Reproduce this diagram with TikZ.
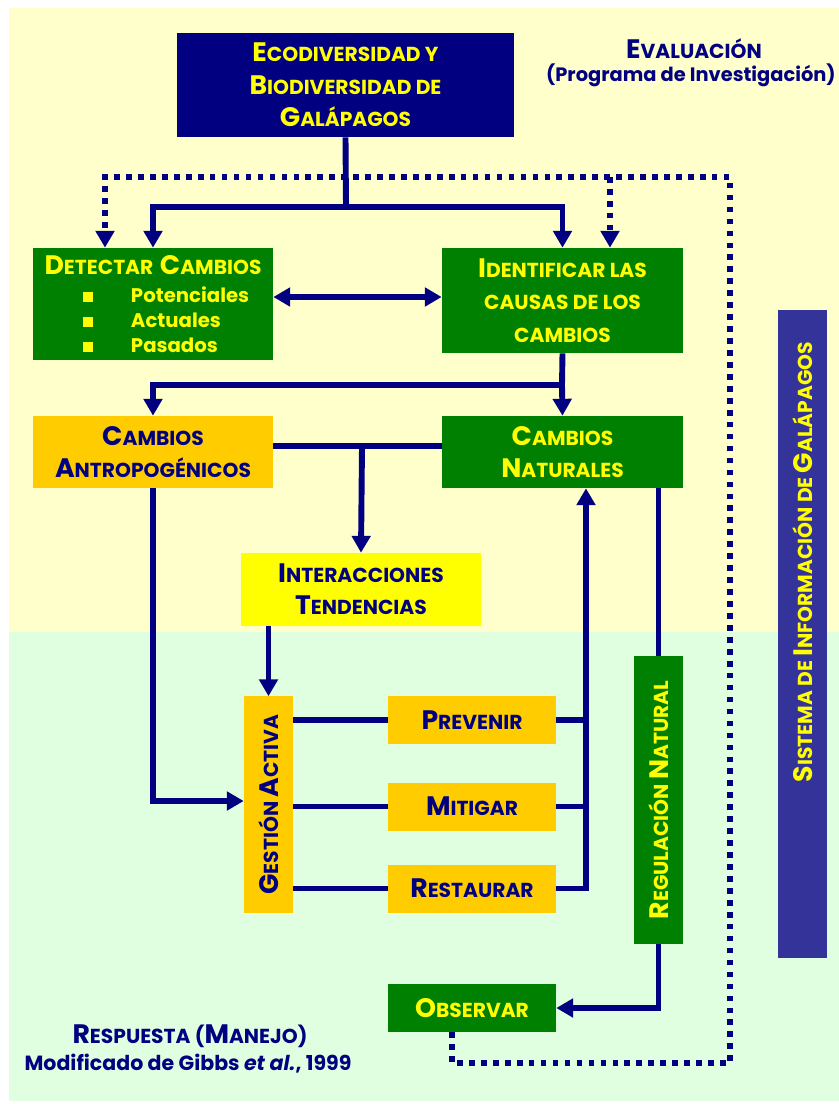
\documentclass[tikz,border=0pt]{standalone}
\usepackage{fontspec}
\setmainfont{Poppins}
\usepackage{graphicx}
\usetikzlibrary{arrows.meta}
\definecolor{navy}{HTML}{000080}
\definecolor{grn}{HTML}{008000}
\definecolor{orng}{HTML}{FFCC00}
\definecolor{yel}{HTML}{FFFF00}
\definecolor{sidebar}{HTML}{333399}
\definecolor{bgyel}{HTML}{FFFFCC}
\definecolor{bggrn}{HTML}{E0FFE0}
\newcommand{\capsc}[2]{{\fontsize{19}{23}\selectfont #1}#2}
\newcommand{\sqbul}{\hspace*{1.25cm}\rule{0.25cm}{0.25cm}\hspace*{0.95cm}}
\tikzset{
  box/.style={rectangle, inner sep=0pt, align=center, font=\bfseries\fontsize{14.4}{23}\selectfont},
  navybox/.style={box, fill=navy, text=yel},
  greenbox/.style={box, fill=grn, text=yel},
  orangebox/.style={box, fill=orng, text=navy},
  yellowbox/.style={box, fill=yel, text=navy},
  sidebox/.style={box, fill=sidebar, text=yel},
  navytext/.style={inner sep=0pt, text=navy, font=\bfseries\fontsize{14.4}{23}\selectfont},
  link/.style={draw=navy, line width=4.2pt},
  arr/.style={link, -{Triangle[width=13pt,length=12pt]}},
  biarr/.style={link, {Triangle[width=13pt,length=12pt]}-{Triangle[width=13pt,length=12pt]}},
  fback/.style={draw=navy, line width=4pt, dash pattern=on 4pt off 4.5pt, -{Triangle[width=13pt,length=12pt]}},
}
\begin{document}
\begin{tikzpicture}[x=0.025cm, y=-0.025cm]
  \useasboundingbox (0,0) rectangle (839,1104);

  % background
  \fill[bgyel] (9,8) rectangle (839,632);
  \fill[bggrn] (9,632) rectangle (839,1101);

  % boxes
  \node[navybox, minimum width=8.425cm, minimum height=2.6cm] (eco) at (345.5,85)
    {\capsc{E}{CODIVERSIDAD Y}\\\capsc{B}{IODIVERSIDAD DE}\\\capsc{G}{AL\'APAGOS}};
  \node[greenbox, text width=6cm, minimum height=2.8cm, align=left,
        font=\bfseries\fontsize{14}{17.7}\selectfont] (detectar) at (153,304)
    {\makebox[6cm]{\fontsize{14.4}{20}\selectfont\capsc{D}{ETECTAR} \capsc{C}{AMBIOS}}\\[2pt]
     \sqbul Potenciales\\ \sqbul Actuales\\ \sqbul Pasados};
  \node[greenbox, minimum width=6.025cm, minimum height=2.625cm] (identificar) at (562.5,300.5)
    {\capsc{I}{DENTIFICAR LAS}\\CAUSAS DE LOS\\CAMBIOS};
  \node[orangebox, minimum width=6cm, minimum height=1.8cm] (antro) at (153,452)
    {\capsc{C}{AMBIOS}\\\capsc{A}{NTROPOG\'ENICOS}};
  \node[greenbox, minimum width=6.025cm, minimum height=1.8cm] (natur) at (562.5,452)
    {\capsc{C}{AMBIOS}\\\capsc{N}{ATURALES}};
  \node[yellowbox, minimum width=6cm, minimum height=1.825cm] (inter) at (361,589.5)
    {\capsc{I}{NTERACCIONES}\\\capsc{T}{ENDENCIAS}};
  \node[orangebox, minimum width=1.225cm, minimum height=5.4cm] (gestion) at (268.5,804.5)
    {\rotatebox{90}{\capsc{G}{ESTI\'ON} \capsc{A}{CTIVA}}};
  \node[orangebox, minimum width=4.2cm, minimum height=1.2cm] (prevenir) at (472,720) {\capsc{P}{REVENIR}};
  \node[orangebox, minimum width=4.2cm, minimum height=1.2cm] (mitigar) at (472,806.5) {\capsc{M}{ITIGAR}};
  \node[orangebox, minimum width=4.2cm, minimum height=1.2cm] (restaurar) at (472,888.5) {\capsc{R}{ESTAURAR}};
  \node[greenbox, minimum width=1.225cm, minimum height=7.2cm] (regul) at (658.5,800)
    {\rotatebox{90}{\capsc{R}{EGULACI\'ON} \capsc{N}{ATURAL}}};
  \node[greenbox, minimum width=4.2cm, minimum height=1.2cm] (observar) at (472,1008) {\capsc{O}{BSERVAR}};
  \node[sidebox, minimum width=1.225cm, minimum height=16.2cm] (sistema) at (802.5,634)
    {\rotatebox{90}{\hspace*{3.6cm}\capsc{S}{ISTEMA DE} \capsc{I}{NFORMACI\'ON DE} \capsc{G}{AL\'APAGOS}}};

  % captions
  \node[navytext, anchor=base] (evaluacion) at (694,59) {\capsc{E}{VALUACI\'ON}};
  \node[navytext, anchor=base east, font=\bfseries\fontsize{13.8}{16}\selectfont] (programa) at (836,82)
    {(Programa de Investigaci\'on)};
  \node[navytext, anchor=base] (respuesta) at (190,1043) {\capsc{R}{ESPUESTA} (\capsc{M}{ANEJO})};
  \node[navytext, anchor=base, font=\bfseries\fontsize{14.6}{16}\selectfont] (gibbs) at (188,1070)
    {Modificado de Gibbs \textit{et al.}, 1999};

  % connectors
  \coordinate (split) at (346,207);
  \draw[link] (eco.south) -- (split);
  \draw[arr] (split) -| (detectar.north);
  \draw[arr] (split) -| (identificar.north);

  \coordinate (dbl) at (350,297);
  \draw[biarr] (detectar.east |- dbl) -- (identificar.west |- dbl);

  \coordinate (split2) at (562,385);
  \draw[link] (identificar.south) -- (split2);
  \draw[arr] (split2) -| (antro.north);
  \draw[arr] (split2) -- (natur.north);

  \coordinate (split3) at (362,446);
  \draw[link] (antro.east |- split3) -- (natur.west |- split3);
  \draw[arr] (split3) -- (inter.north);

  \draw[arr] (inter.south -| gestion.north) -- (gestion.north);
  \coordinate (gin) at (200,801);
  \draw[arr] (antro.south) |- (gestion.west |- gin);

  \draw[link] (gestion.east |- prevenir.west) -- (prevenir.west);
  \draw[link] (gestion.east |- mitigar.west) -- (mitigar.west);
  \draw[link] (gestion.east |- restaurar.west) -- (restaurar.west);

  \coordinate (rise) at (586,700);
  \draw[link] (prevenir.east) -- (prevenir.east -| rise);
  \draw[link] (mitigar.east) -- (mitigar.east -| rise);
  \draw[arr] (restaurar.east) -| (natur.south -| rise);

  \draw[link] (natur.south -| regul.north) -- (regul.north);
  \draw[arr] (regul.south) |- (observar.east);

  % feedback loop
  \coordinate (fb1) at (452,1063);
  \coordinate (fb2) at (730,1063);
  \coordinate (fb3) at (730,177);
  \coordinate (fb4) at (105,177);
  \coordinate (fb5) at (610,177);
  \draw[fback] (observar.south -| fb1) -- (fb1) -- (fb2) -- (fb3) -- (fb4) -- (fb4 |- detectar.north);
  \draw[fback] (fb5) -- (fb5 |- identificar.north);
\end{tikzpicture}
\end{document}
